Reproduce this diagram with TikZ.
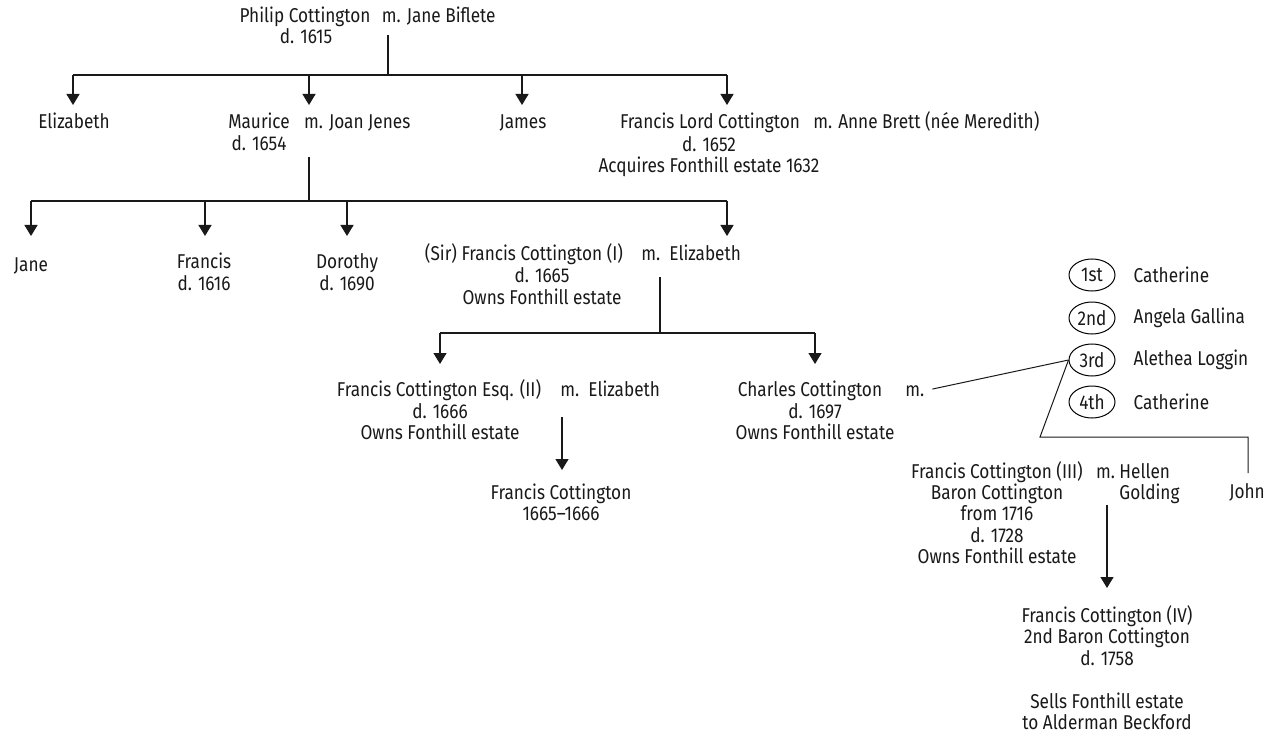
\documentclass[tikz,border=0pt]{standalone}
\usepackage{fontspec}
\setmainfont{Fira Sans}[FakeStretch=0.86]
\usetikzlibrary{arrows.meta,positioning,shapes.geometric}

\begin{document}
\begin{tikzpicture}[x=1pt,y=-1pt]

        % Styles:
        \tikzstyle{texto}=[inner sep=0pt, anchor=base, align=center,
        text=black!90, font={\fontsize{20}{21.5}\selectfont}]
        \tikzstyle{spouse}=[texto, anchor=base west]
        \tikzstyle{orden}=[texto, draw, ellipse, anchor=center,
        line width=1pt, minimum width=46pt, minimum height=32pt]
        \tikzstyle{line}=[draw, line width=1.3pt, color=black!90]
        \tikzstyle{arrow}=[line, -{Triangle[width=13pt,length=11pt]}]

        % multi-line nodes sit on the baseline of their last line
        \newcommand{\persona}[3]{node (p#1) [texto,#3] {#2}}
        \newcommand{\casado}[3]{node (m#1) [spouse,right=#3 of p#1.base east,anchor=base west] {#2}}

        \useasboundingbox (0,0) rectangle (1276,735);

        % People:
        \path (305,23) \persona{philip}{Philip Cottington}{};
        \path \casado{philip}{m. Jane Biflete}{11pt};
        \path (306,44) \persona{philipd}{d. 1615}{};

        \path (74,129) \persona{elizabeth}{Elizabeth}{};
        \path (259,129) \persona{maurice}{Maurice}{};
        \path \casado{maurice}{m. Joan Jenes}{14pt};
        \path (259,151) \persona{mauriced}{d. 1654}{};
        \path (523,129) \persona{james}{James}{};
        \path (710,129) \persona{lord}{Francis Lord Cottington}{};
        \path \casado{lord}{m. Anne Brett (née Meredith)}{13pt};
        \path (709,173) \persona{lordd}{d. 1652\\Acquires Fonthill estate 1632}{};

        \path (31,272) \persona{jane}{Jane}{};
        \path (204,290) \persona{francis}{Francis\\d. 1616}{};
        \path (347,290) \persona{dorothy}{Dorothy\\d. 1690}{};
        \path (524,261) \persona{sir}{(Sir) Francis Cottington (I)}{};
        \path \casado{sir}{m.\ \ Elizabeth}{18pt};
        \path (542,304.5) \persona{sird}{d. 1665\\Owns Fonthill estate}{};

        \path (439,396) \persona{esq}{Francis Cottington Esq. (II)}{};
        \path \casado{esq}{m.\ \ Elizabeth}{19pt};
        \path (440,439.5) \persona{esqd}{d. 1666\\Owns Fonthill estate}{};
        \path (561,520.5) \persona{infant}{Francis Cottington\\1665--1666}{};
        \path (810,396) \persona{charles}{Charles Cottington}{};
        \path \casado{charles}{m.}{23pt};
        \path (815,439.5) \persona{charlesd}{d. 1697\\Owns Fonthill estate}{};

        % Wives of Charles:
        \node (o1) [orden] at (1092,275) {1st};
        \node (o2) [orden] at (1092,318) {2nd};
        \node (o3) [orden] at (1092,360) {3rd};
        \node (o4) [orden] at (1092,402) {4th};
        \node (w1) [texto, right=18pt of o1] {Catherine};
        \node (w2) [texto, right=18pt of o2] {Angela Gallina};
        \node (w3) [texto, right=18pt of o3] {Alethea Loggin};
        \node (w4) [texto, right=18pt of o4] {Catherine};

        \path (997,478) \persona{baron}{Francis Cottington (III)}{};
        \path \casado{baron}{m.}{13pt};
        \node (hellen) [spouse, right=4pt of mbaron.base east, anchor=base west] {Hellen};
        \node (golding) [spouse] at ([yshift=-21.5pt]hellen.base west) {Golding};
        \path (997,563.5) \persona{barond}{Baron Cottington\\from 1716\\d. 1728\\Owns Fonthill estate}{};
        \path (1247,498) \persona{john}{John}{};

        \path (1107,729.5) \persona{last}{Francis Cottington (IV)\\2nd Baron Cottington\\d. 1758\\[21.5pt]Sells Fonthill estate\\to Alderman Beckford}{};

        % Lines:
        \coordinate (c1) at (388,35);
        \coordinate (r1) at (0,75);
        \coordinate (k11) at (73,105);
        \coordinate (k12) at (309,105);
        \coordinate (k13) at (522,105);
        \coordinate (k14) at (727,105);
        \path [line] (c1) -- (c1 |- r1);
        \path [line] (k11 |- r1) -- (k14 |- r1);
        \foreach \k in {k11,k12,k13,k14}
            \path [arrow] (\k |- r1) -- (\k);

        \coordinate (c2) at (309,157);
        \coordinate (r2) at (0,201);
        \coordinate (k21) at (31,236);
        \coordinate (k22) at (205,236);
        \coordinate (k23) at (347,236);
        \coordinate (k24) at (727,236);
        \path [line] (c2) -- (c2 |- r2);
        \path [line] (k21 |- r2) -- (k24 |- r2);
        \foreach \k in {k21,k22,k23,k24}
            \path [arrow] (\k |- r2) -- (\k);

        \coordinate (c3) at (660,277);
        \coordinate (r3) at (0,333);
        \coordinate (k31) at (440,364);
        \coordinate (k32) at (815,364);
        \path [line] (c3) -- (c3 |- r3);
        \path [line] (k31 |- r3) -- (k32 |- r3);
        \foreach \k in {k31,k32}
            \path [arrow] (\k |- r3) -- (\k);

        \coordinate (c4) at (562,417);
        \coordinate (k4) at (562,470);
        \path [arrow] (c4) -- (k4);

        \coordinate (s5) at (1040,437);
        \coordinate (t5) at (1248,473);
        \path [line, line width=1pt, shorten <=8pt] (mcharles.east) -- (o3.west);
        \path [line, line width=1pt] (o3.west) -- (s5) -| (t5);

        \coordinate (c5) at (1107,505);
        \coordinate (k5) at (1107,588);
        \path [arrow] (c5) -- (k5);
\end{tikzpicture}
\end{document}
